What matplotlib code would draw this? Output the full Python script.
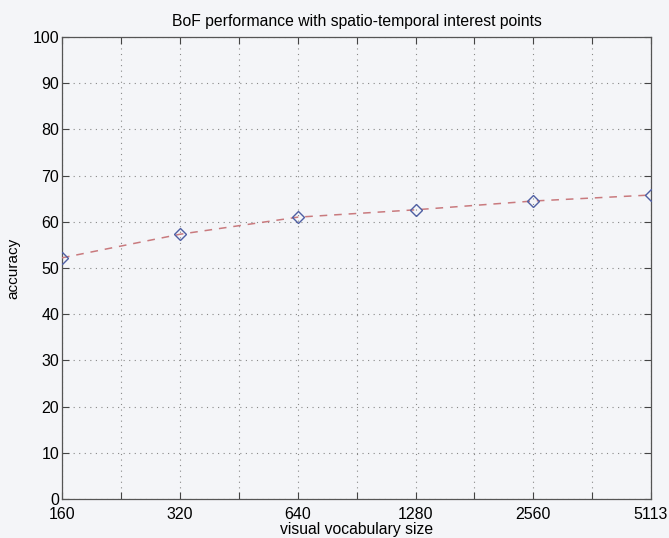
import numpy as np
import matplotlib.pyplot as plt
from matplotlib.ticker import FixedLocator, NullFormatter

plt.rcParams['font.family'] = ['Liberation Sans', 'DejaVu Sans']
plt.rcParams['font.size'] = 10

# Data
vocab_sizes = [160, 320, 640, 1280, 2560, 5113]
tick_labels = ['160', '320', '640', '1280', '2560', '5113']
accuracy = [52.2, 57.3, 61.0, 62.6, 64.5, 65.8]

bg = '#f4f5f8'
fig = plt.figure(figsize=(6.69, 5.38), dpi=100, facecolor=bg)
ax = fig.add_axes([62 / 669, 1 - 499 / 538, 589 / 669, 462 / 538], facecolor=bg)

ax.set_xscale('log', base=2)
ax.plot(vocab_sizes, accuracy, linestyle=(0, (5, 4.5)), color='#c97a7e', linewidth=1.1, zorder=3)
ax.plot(vocab_sizes, accuracy, linestyle='none', marker='D', markersize=6,
        markerfacecolor='none', markeredgecolor='#4f5fa3', markeredgewidth=1.0, zorder=4)

ax.set_xlim(160, 5113)
ax.set_ylim(0, 100)
ax.xaxis.set_major_locator(FixedLocator(vocab_sizes))
ax.set_xticklabels(tick_labels)
mids = [np.sqrt(a * b) for a, b in zip(vocab_sizes[:-1], vocab_sizes[1:])]
ax.xaxis.set_minor_locator(FixedLocator(mids))
ax.xaxis.set_minor_formatter(NullFormatter())
ax.set_yticks(np.arange(0, 101, 10))

ax.tick_params(axis='both', which='both', direction='in', length=5, width=0.8,
               color='#444444', top=True, right=True, labelsize=11.5)
ax.tick_params(axis='x', pad=6)
ax.tick_params(axis='y', pad=2)
ax.grid(True, which='both', linestyle=(0, (1, 4)), color='#888888', linewidth=0.8)
for s in ax.spines.values():
    s.set_color('#555555')
    s.set_linewidth(0.9)

ax.set_title('BoF performance with spatio-temporal interest points', fontsize=11.3, pad=8)
ax.set_xlabel('visual vocabulary size', fontsize=11.3)
ax.xaxis.set_label_coords(0.5, -0.049)
ax.set_ylabel('accuracy', fontsize=11, labelpad=9)

fig.savefig('out.png', dpi=100, facecolor=bg)
